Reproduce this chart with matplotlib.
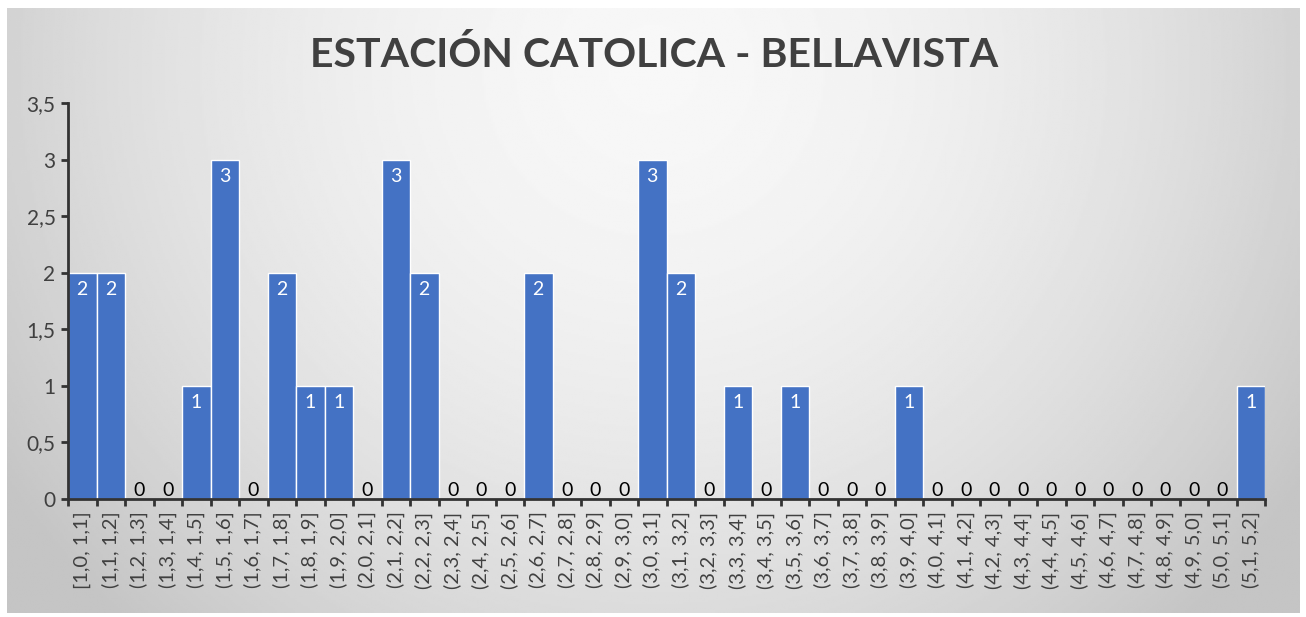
import matplotlib
matplotlib.use("Agg")
import matplotlib.pyplot as plt
import numpy as np
from matplotlib import font_manager as fm

# class intervals and station counts
intervals = [
    "[1,0, 1,1]", "(1,1, 1,2]", "(1,2, 1,3]", "(1,3, 1,4]", "(1,4, 1,5]", "(1,5, 1,6]",
    "(1,6, 1,7]", "(1,7, 1,8]", "(1,8, 1,9]", "(1,9, 2,0]", "(2,0, 2,1]", "(2,1, 2,2]",
    "(2,2, 2,3]", "(2,3, 2,4]", "(2,4, 2,5]", "(2,5, 2,6]", "(2,6, 2,7]", "(2,7, 2,8]",
    "(2,8, 2,9]", "(2,9, 3,0]", "(3,0, 3,1]", "(3,1, 3,2]", "(3,2, 3,3]", "(3,3, 3,4]",
    "(3,4, 3,5]", "(3,5, 3,6]", "(3,6, 3,7]", "(3,7, 3,8]", "(3,8, 3,9]", "(3,9, 4,0]",
    "(4,0, 4,1]", "(4,1, 4,2]", "(4,2, 4,3]", "(4,3, 4,4]", "(4,4, 4,5]", "(4,5, 4,6]",
    "(4,6, 4,7]", "(4,7, 4,8]", "(4,8, 4,9]", "(4,9, 5,0]", "(5,0, 5,1]", "(5,1, 5,2]",
]
counts = [2, 2, 0, 0, 1, 3, 0, 2, 1, 1, 0, 3, 2, 0, 0, 0, 2, 0, 0, 0, 3, 2, 0, 1,
          0, 1, 0, 0, 0, 1, 0, 0, 0, 0, 0, 0, 0, 0, 0, 0, 0, 1]
yticks = [0, 0.5, 1, 1.5, 2, 2.5, 3, 3.5]

TITLE = "ESTACIÓN CATOLICA - BELLAVISTA"
BLUE = "#4472C4"
INK = "#404040"

names = {f.name for f in fm.fontManager.ttflist}
FONT = "Lato" if "Lato" in names else "DejaVu Sans"
plt.rcParams["font.family"] = [FONT, "DejaVu Sans"]

W, H = 1306, 617
fig = plt.figure(figsize=(W / 100, H / 100), dpi=100)
fig.patch.set_facecolor("white")

# chart area with a soft radial grey fill
bg = fig.add_axes([7 / W, 4 / H, 1293 / W, 605 / H])
gx, gy = np.meshgrid(np.linspace(-1, 1, 600), np.linspace(-1, 1, 300))
cx, cy = 0.0, -0.8
r = np.sqrt(((gx - cx) / 1.1) ** 2 + ((gy - cy) / 2.3) ** 2)
shade = np.clip(0.97 - 0.17 * r ** 1.8, 0.77, 0.975)
bg.imshow(shade, cmap="gray", vmin=0, vmax=1, aspect="auto", extent=(0, 1, 1, 0))
bg.set_axis_off()

ax = fig.add_axes([68 / W, 1 - 499 / H, (1265 - 68) / W, (499 - 103) / H])
ax.patch.set_alpha(0)
x = np.arange(len(counts))
bars = ax.bar(x, counts, width=1.0, color=BLUE, edgecolor="white", linewidth=1.0, zorder=2)

for xi, v in zip(x, counts):
    if v > 0:
        ax.annotate(str(v), (xi, v), xytext=(0, -6), textcoords="offset points",
                    ha="center", va="top", color="white", fontsize=14, zorder=3)
    else:
        ax.annotate(str(v), (xi, 0), xytext=(0, 0), textcoords="offset points",
                    ha="center", va="bottom", color="black", fontsize=14, zorder=3)

ax.set_xlim(-0.5, len(counts) - 0.5)
ax.set_ylim(0, 3.5)
ax.set_yticks(yticks)
ax.set_yticklabels([f"{t:g}".replace(".", ",") for t in yticks], fontsize=15, color=INK)
ax.set_xticks(x)
ax.set_xticklabels(intervals, rotation=90, fontsize=14.5, color=INK)
ax.set_xticks(np.arange(len(counts) + 1) - 0.5, minor=True)
ax.tick_params(axis="x", which="major", length=0, pad=9)
ax.tick_params(axis="x", which="minor", length=5, width=2, color="#333333")
ax.tick_params(axis="y", length=5, width=2, color="#333333", pad=4)

for side in ("top", "right"):
    ax.spines[side].set_visible(False)
for side in ("left", "bottom"):
    ax.spines[side].set_linewidth(2)
    ax.spines[side].set_color("#333333")

fig.text(654 / W, 1 - 55 / H, TITLE, ha="center", va="center",
         fontsize=29.5, fontweight="bold", color=INK)

fig.savefig("out.png", dpi=100)
